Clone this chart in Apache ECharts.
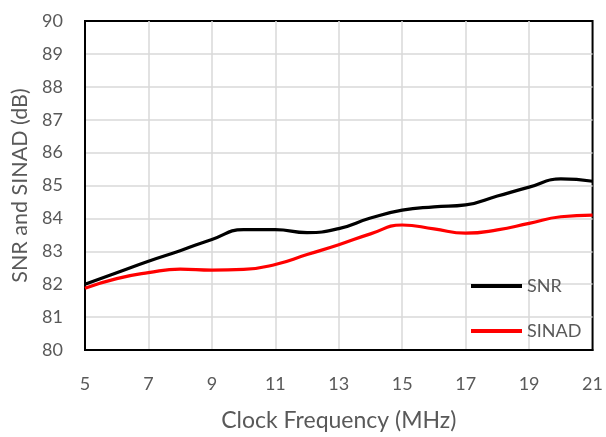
<!DOCTYPE html>
<html>
<head>
<meta charset="utf-8">
<script src="https://cdn.jsdelivr.net/npm/echarts@6/dist/echarts.min.js"></script>
<style>
html,body{margin:0;padding:0;background:#fff;}
#chart{width:606px;height:437px;}
</style>
</head>
<body>
<div id="chart"></div>
<script>
var freqs = [5, 6, 7, 8, 9, 10, 11, 12, 13, 14, 15, 16, 17, 18, 19, 20, 21];
var snr   = [82.0, 82.35, 82.7, 83.02, 83.36, 83.66, 83.66, 83.57, 83.69, 84.01, 84.25, 84.35, 84.41, 84.68, 84.95, 85.2, 85.13];
var sinad = [81.88, 82.17, 82.35, 82.46, 82.43, 82.45, 82.6, 82.9, 83.2, 83.53, 83.8, 83.68, 83.55, 83.65, 83.85, 84.05, 84.1];
var seriesNames = ['SNR', 'SINAD'];
var xTitle = 'Clock Frequency (MHz)';
var yTitle = 'SNR and SINAD (dB)';

function pairs(xs, ys){ return xs.map(function(x,i){ return [x, ys[i]]; }); }

var font = 'Lato, "Open Sans", sans-serif';
var chart = echarts.init(document.getElementById('chart'), null, {renderer:'canvas'});
chart.setOption({
  animation: false,
  backgroundColor: '#fff',
  grid: {left: 85, right: 13, top: 21, bottom: 84, show: true, borderColor: '#000', borderWidth: 2, backgroundColor: 'transparent'},
  legend: {
    orient: 'vertical', left: 471, top: 276, padding: 0, icon: 'rect', itemWidth: 51, itemHeight: 4, itemGap: 25,
    textStyle: {color: '#595959', fontFamily: font, fontSize: 18, lineHeight: 20},
    data: seriesNames
  },
  xAxis: {
    type: 'value', min: 5, max: 21, interval: 2,
    name: xTitle, nameLocation: 'middle', nameGap: 59,
    nameTextStyle: {color: '#595959', fontFamily: font, fontSize: 23},
    axisLine: {show: true, lineStyle: {color: '#000', width: 2}},
    axisTick: {show: false},
    axisLabel: {color: '#595959', fontFamily: font, fontSize: 18, margin: 25},
    splitLine: {show: true, showMinLine: false, showMaxLine: false, lineStyle: {color: '#d9d9d9', width: 1.5}}
  },
  yAxis: {
    type: 'value', min: 80, max: 90, interval: 1,
    name: yTitle, nameLocation: 'middle', nameGap: 51,
    nameTextStyle: {color: '#595959', fontFamily: font, fontSize: 21.5},
    axisLine: {show: true, lineStyle: {color: '#000', width: 2}},
    axisTick: {show: false},
    axisLabel: {color: '#595959', fontFamily: font, fontSize: 18, margin: 22},
    splitLine: {show: true, showMinLine: false, showMaxLine: false, lineStyle: {color: '#d9d9d9', width: 1.5}}
  },
  series: [
    {name: seriesNames[0], type: 'line', data: pairs(freqs, snr), smooth: 0.5, symbol: 'none', lineStyle: {color: '#000', width: 3.2}, itemStyle: {color: '#000'}},
    {name: seriesNames[1], type: 'line', data: pairs(freqs, sinad), smooth: 0.5, symbol: 'none', lineStyle: {color: '#ff0000', width: 3.2}, itemStyle: {color: '#ff0000'}}
  ]
});
</script>
</body>
</html>
